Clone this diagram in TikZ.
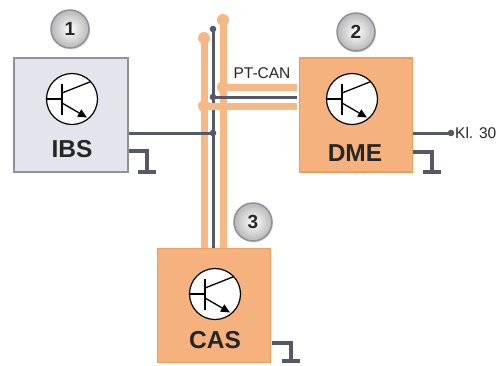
\documentclass[tikz,border=0pt]{standalone}
\usepackage{fontspec}
\setmainfont{Liberation Sans}
\usetikzlibrary{arrows.meta,shadows}
\definecolor{orfill}{HTML}{F5B27E}
\definecolor{orborder}{HTML}{EE9D5C}
\definecolor{orbus}{HTML}{F6B884}
\definecolor{darkln}{HTML}{565868}
\definecolor{grfill}{HTML}{E4E5EC}
\definecolor{grborder}{HTML}{8F919D}
\definecolor{numborder}{HTML}{8E909A}
\tikzset{
  graybox/.style={draw=grborder,line width=2pt,fill=grfill,minimum width=114pt,minimum height=114pt,inner sep=0pt},
  orangebox/.style={draw=orborder,line width=1.5pt,fill=orfill,minimum width=113pt,minimum height=114pt,inner sep=0pt},
  boxlabel/.style={font=\fontsize{24.5}{28}\selectfont\bfseries,text=black!85,inner sep=0pt},
  numcircle/.style={circle,minimum size=38pt,inner sep=0pt,draw=numborder,line width=1.5pt,
     shading=radial,inner color=white,outer color=black!28,
     drop shadow={shadow xshift=1pt,shadow yshift=-1.5pt,opacity=0.25},
     font=\fontsize{19}{21}\selectfont\bfseries,text=black!85},
  orline/.style={orbus,line width=7pt},
  dkline/.style={darkln,line width=3pt},
  gndline/.style={darkln,line width=3.2pt},
  smalltext/.style={font=\fontsize{15.5}{17}\selectfont,text=black!85,inner sep=0pt},
  tcircle/.style={circle,draw=black,fill=white,line width=1.2pt,minimum size=51pt,inner sep=0pt}
}
\newcommand\mytransistor[2]{%
  \node[tcircle] (#2) at #1 {};
  \begin{scope}[shift={#1},line width=1.3pt]
    \draw (-25.5,0) -- (-10,0);
    \draw (-10,-15) -- (-10,16);
    \draw (-10,-6) -- (19,-17.5);
    \draw[-{Triangle[length=9pt,width=8pt]}] (-10,4) -- (15,18.5);
  \end{scope}}
\begin{document}
\begin{tikzpicture}[x=1pt,y=-1pt]
\useasboundingbox (0,0) rectangle (500,365);
% boxes
\node[graybox] (ibs) at (71,115) {};
\node[orangebox] (dme) at (356,115) {};
\node[orangebox] (cas) at (214,305.5) {};
% transistors
\mytransistor{(72,99)}{tibs}
\mytransistor{(352,99)}{tdme}
\mytransistor{(215,294)}{tcas}
% labels
\node[boxlabel] (libs) at (72,149) {IBS};
\node[boxlabel] (ldme) at (355,153) {DME};
\node[boxlabel] (lcas) at (215,340) {CAS};
% number circles
\node[numcircle] (n1) at (70,29) {1};
\node[numcircle] (n2) at (356,32) {2};
\node[numcircle] (n3) at (253,222) {3};
% bus coordinates
\coordinate (oLt) at (204,38);
\coordinate (oLb) at (204,248);
\coordinate (dkt) at (213,29);
\coordinate (dkb) at (213,248);
\coordinate (oRt) at (223,20);
\coordinate (oRb) at (223,248);
\coordinate (jU) at (223,87);
\coordinate (eU) at (297,87);
\coordinate (jD) at (213,97);
\coordinate (eD) at (297,97);
\coordinate (jL) at (204,106);
\coordinate (eL) at (297,106);
\coordinate (jI) at (213,133);
\coordinate (sI) at (129,133);
\coordinate (sK) at (413,133);
\coordinate (eK) at (451,133);
% orange verticals
\draw[orline] (oLt) -- (oLb);
\draw[orline] (oRt) -- (oRb);
\fill[orbus] (oLt) circle (6);
\fill[orbus] (oRt) circle (6);
\draw[orline] (jU) -- (eU);
\fill[orbus] (jU) circle (6);
% dark lines
\draw[dkline] (dkt) -- (dkb);
\draw[dkline] (jD) -- (eD);
\draw[dkline] (sI) -- (jI);
\fill[darkln] (dkt) circle (3.3);
\fill[darkln] (jD) circle (3.3);
\fill[darkln] (jI) circle (3.3);
% lower orange
\draw[orline] (jL) -- (eL);
\fill[orbus] (jL) circle (6);
% Kl.30
\draw[dkline] (sK) -- (eK);
\fill[darkln] (eK) circle (3.3);
\node[smalltext,anchor=west] (kl) at (455,133) {Kl. 30};
\node[smalltext] (ptcan) at (262,73) {PT-CAN};
% grounds
\coordinate (gI1) at (129,151);
\coordinate (gI2) at (147,151);
\coordinate (gI3) at (147,172);
\coordinate (gIa) at (138,172);
\coordinate (gIb) at (156,172);
\draw[gndline] (gI1) -- (gI2) -- (gI3);
\draw[gndline] (gIa) -- (gIb);
\coordinate (gD1) at (413,152);
\coordinate (gD2) at (432,152);
\coordinate (gD3) at (432,172);
\coordinate (gDa) at (423,172);
\coordinate (gDb) at (441,172);
\draw[gndline] (gD1) -- (gD2) -- (gD3);
\draw[gndline] (gDa) -- (gDb);
\coordinate (gC1) at (272,343);
\coordinate (gC2) at (291,343);
\coordinate (gC3) at (291,361);
\coordinate (gCa) at (282,361);
\coordinate (gCb) at (300,361);
\draw[gndline] (gC1) -- (gC2) -- (gC3);
\draw[gndline] (gCa) -- (gCb);
\end{tikzpicture}
\end{document}
